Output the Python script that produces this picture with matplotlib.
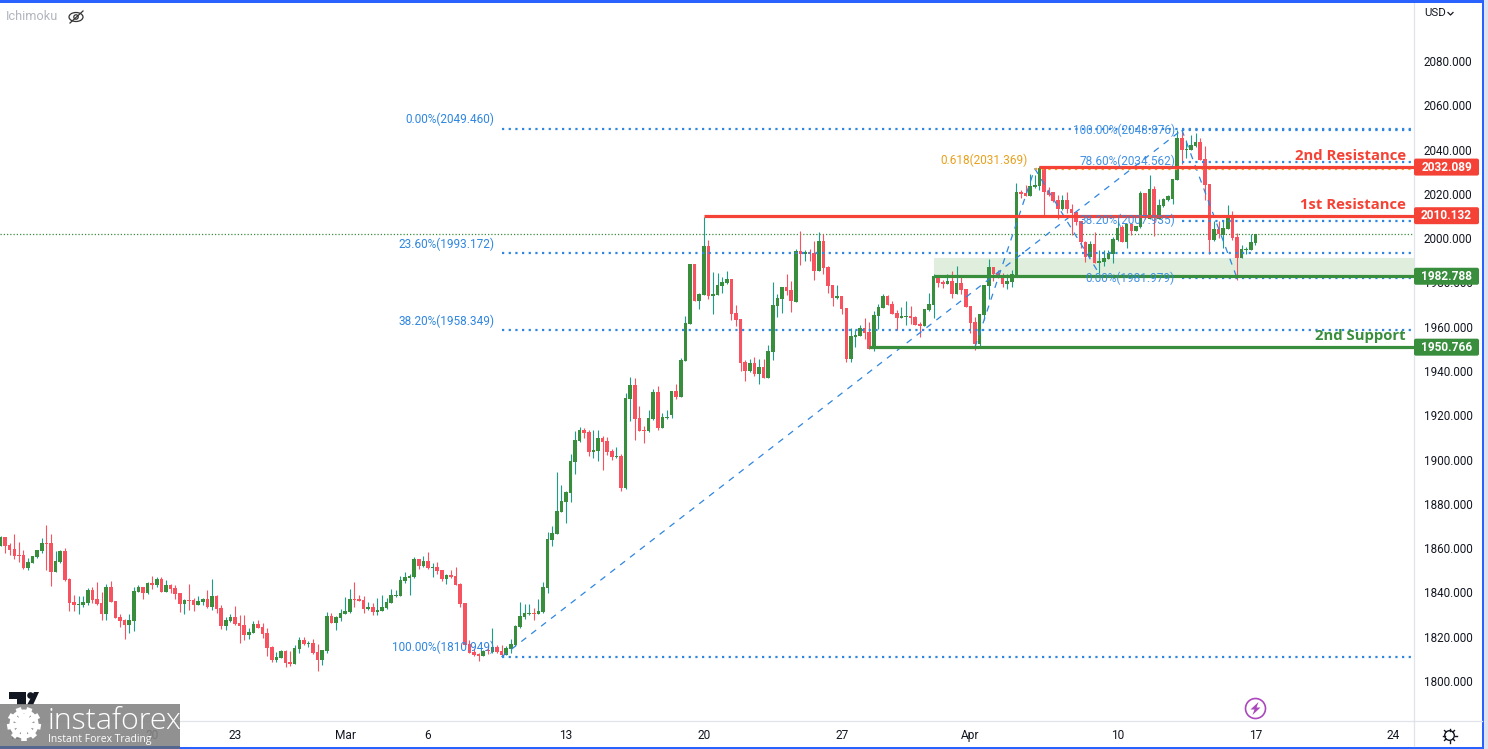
import matplotlib
matplotlib.use('Agg')
import matplotlib.pyplot as plt
import numpy as np
from matplotlib.patches import Circle, Ellipse, FancyBboxPatch, Polygon, Rectangle

# 4h bars
opens = [
    1861.0,1865.0,1861.4,1859.6,1856.9,1856.9,1851.0,1853.4,1856.2,1858.7,
    1862.3,1862.3,1849.2,1853.7,1858.7,1846.1,1835.7,1834.5,1834.3,1835.4,
    1841.1,1837.0,1835.2,1830.3,1842.5,1836.1,1828.9,1827.7,1825.3,1827.2,
    1840.3,1842.3,1839.7,1844.1,1843.4,1846.1,1840.3,1843.4,1841.9,1839.6,
    1834.8,1836.6,1836.6,1834.3,1835.8,1837.0,1833.4,1838.5,1833.0,1824.8,
    1827.1,1828.9,1826.2,1825.1,1820.8,1821.7,1825.7,1824.4,1821.7,1815.4,
    1809.5,1810.5,1813.5,1808.4,1807.7,1814.5,1818.5,1816.7,1817.2,1813.1,
    1809.5,1813.5,1829.4,1826.2,1828.3,1830.3,1831.2,1837.2,1837.2,1836.6,
    1832.5,1833.4,1831.3,1831.8,1833.0,1835.2,1838.4,1838.4,1845.2,1846.5,
    1847.0,1855.1,1851.9,1854.2,1851.2,1851.5,1850.1,1846.1,1847.9,1847.4,
    1843.8,1835.2,1816.7,1813.1,1812.2,1811.3,1814.0,1813.1,1815.4,1813.5,
    1811.7,1814.5,1816.3,1824.4,1828.9,1830.3,1830.7,1830.3,1831.2,1842.0,
    1863.7,1866.4,1876.3,1880.8,1884.9,1898.9,1908.4,1913.4,1912.5,1903.4,
    1903.9,1909.7,1908.4,1903.9,1901.2,1901.6,1887.2,1927.4,1933.7,1918.8,
    1913.4,1912.9,1918.3,1930.5,1914.3,1918.8,1920.0,1931.0,1928.4,1944.5,
    1961.2,1988.3,1971.6,1974.3,1996.5,1973.9,1974.3,1978.4,1979.7,1981.5,
    1966.2,1963.5,1944.1,1940.0,1943.6,1938.6,1941.8,1936.8,1948.6,1969.4,
    1972.5,1977.9,1976.6,1971.2,1994.2,1992.8,1993.7,1993.3,1985.2,1998.7,
    1987.0,1978.8,1973.0,1973.9,1968.5,1945.4,1955.4,1955.8,1959.4,1957.6,
    1949.9,1964.8,1968.5,1973.9,1970.3,1966.2,1963.9,1964.4,1964.8,1964.4,
    1961.2,1960.3,1967.6,1969.8,1983.4,1980.2,1979.3,1980.6,1974.8,1979.7,
    1977.0,1969.4,1962.1,1952.2,1965.3,1978.4,1987.0,1984.3,1982.9,1979.3,
    1980.2,1982.9,2020.8,2020.4,2019.0,2023.0,2023.6,2031.7,2021.3,2020.7,
    2017.2,2013.2,2017.2,2013.2,2011.8,2007.7,1998.3,1991.5,1997.4,1988.8,
    1989.2,1990.6,1992.8,1999.2,2005.0,1998.3,2006.4,2003.2,2005.0,2020.4,
    2008.6,2022.2,2008.6,2014.5,2017.2,2017.7,2026.3,2045.2,2039.8,2039.8,
    2041.6,2043.4,2035.8,2024.5,1999.2,2004.1,2001.4,2004.1,2010.0,2000.5,
    1991.0,1994.6,1994.6,1997.8,
]
closes = [
    1865.2,1861.0,1859.2,1856.5,1856.6,1850.9,1853.7,1856.5,1859.2,1862.5,
    1862.0,1849.4,1854.2,1858.9,1845.6,1835.4,1834.3,1834.8,1835.7,1841.1,
    1836.6,1834.8,1830.3,1842.3,1835.8,1828.5,1827.2,1825.3,1827.5,1840.6,
    1842.5,1839.7,1844.3,1843.4,1846.1,1840.3,1843.4,1841.5,1839.3,1834.8,
    1836.6,1836.3,1834.3,1836.0,1837.0,1833.3,1838.4,1832.7,1824.8,1827.5,
    1828.9,1825.7,1824.8,1820.8,1822.1,1825.7,1823.9,1821.2,1814.9,1809.5,
    1810.8,1813.5,1808.1,1807.5,1814.9,1818.5,1816.7,1817.0,1812.6,1809.5,
    1814.0,1829.4,1826.2,1828.9,1830.7,1831.6,1837.0,1836.7,1836.3,1832.5,
    1833.4,1831.3,1832.1,1833.4,1835.7,1838.8,1838.8,1845.6,1847.0,1847.4,
    1855.1,1851.9,1854.2,1850.9,1851.5,1849.7,1846.1,1847.9,1847.0,1843.4,
    1834.8,1816.3,1812.6,1811.7,1811.3,1813.5,1813.5,1815.4,1813.1,1811.7,
    1814.9,1816.7,1824.8,1829.4,1830.7,1830.7,1830.4,1831.6,1842.5,1864.1,
    1866.8,1876.8,1881.3,1885.4,1899.4,1908.8,1913.4,1912.0,1903.4,1904.3,
    1909.7,1907.9,1903.4,1901.2,1901.6,1887.0,1927.8,1933.7,1918.3,1912.9,
    1912.9,1918.8,1930.5,1914.3,1919.2,1919.2,1931.0,1928.4,1945.0,1961.7,
    1988.3,1971.6,1974.8,1996.5,1973.9,1974.8,1978.8,1980.2,1981.5,1965.7,
    1963.0,1943.6,1940.0,1943.6,1938.6,1941.8,1936.8,1949.0,1969.8,1973.0,
    1977.9,1976.1,1971.6,1994.2,1992.8,1993.7,1992.8,1985.2,1998.7,1986.5,
    1978.4,1973.0,1973.9,1968.0,1945.4,1955.8,1956.3,1959.4,1957.2,1949.9,
    1965.3,1968.9,1973.9,1969.8,1965.7,1963.9,1964.8,1964.8,1963.9,1960.8,
    1960.3,1968.0,1970.3,1982.9,1979.7,1979.3,1980.6,1974.8,1979.7,1976.6,
    1968.9,1961.7,1952.2,1965.7,1978.8,1987.0,1983.8,1982.3,1979.3,1980.6,
    1983.8,2020.8,2019.9,2019.0,2023.6,2024.0,2031.7,2020.8,2019.3,2016.9,
    2013.2,2017.2,2013.2,2011.4,2007.3,1998.3,1991.5,1997.4,1988.8,1989.7,
    1991.0,1993.3,1999.6,2004.6,1998.3,2006.4,2003.2,2005.5,2020.4,2009.1,
    2022.2,2009.1,2015.0,2017.7,2019.0,2026.7,2045.2,2039.8,2040.3,2042.1,
    2043.4,2035.3,2024.0,1999.2,2004.1,2001.9,2004.6,2010.0,2000.1,1991.0,
    1995.1,1995.1,1998.3,2001.9,
]
highs = [
    1865.5,1865.0,1862.5,1866.4,1862.8,1859.2,1855.4,1856.5,1859.2,1864.7,
    1870.5,1866.4,1858.7,1859.2,1859.9,1846.4,1838.8,1838.4,1838.4,1841.9,
    1842.3,1844.7,1840.3,1843.8,1845.2,1836.1,1830.3,1828.0,1830.3,1842.3,
    1843.4,1842.3,1844.9,1847.4,1846.8,1846.8,1845.6,1843.8,1843.4,1839.6,
    1837.2,1843.8,1837.6,1838.4,1837.6,1841.1,1846.1,1838.8,1834.2,1828.8,
    1830.3,1833.9,1829.8,1829.8,1823.9,1826.9,1827.5,1826.2,1823.8,1815.8,
    1813.1,1814.0,1814.0,1813.5,1816.3,1819.9,1819.9,1818.1,1819.0,1816.7,
    1814.0,1831.2,1830.6,1829.4,1832.5,1837.9,1841.5,1844.7,1838.8,1838.4,
    1835.5,1835.2,1837.5,1838.8,1837.5,1841.5,1841.1,1847.4,1849.2,1848.3,
    1856.0,1855.1,1856.5,1858.3,1853.3,1853.7,1850.1,1848.3,1850.1,1851.5,
    1844.3,1835.2,1818.5,1814.9,1812.6,1814.0,1816.3,1823.9,1816.3,1816.3,
    1815.8,1819.0,1825.3,1835.7,1834.8,1834.8,1833.0,1837.0,1844.7,1867.3,
    1870.0,1894.4,1888.5,1885.8,1902.5,1912.9,1914.7,1914.3,1913.4,1913.4,
    1913.4,1910.6,1910.2,1904.8,1905.7,1902.5,1930.1,1937.3,1936.8,1924.2,
    1915.2,1922.4,1931.9,1933.2,1921.0,1922.4,1931.0,1934.1,1945.9,1964.8,
    1988.3,1988.3,1975.2,2009.7,1999.2,1984.7,1984.3,1982.5,1985.2,1981.5,
    1969.8,1963.5,1945.0,1945.4,1946.3,1945.4,1945.4,1951.7,1980.2,1974.8,
    1977.9,1983.8,1980.6,1995.1,2003.2,1994.7,1995.1,1998.7,2002.8,2001.9,
    1987.4,1978.8,1978.8,1973.9,1968.5,1959.4,1958.5,1960.8,1963.9,1962.1,
    1967.1,1970.3,1974.8,1974.3,1971.6,1967.6,1968.9,1971.6,1969.4,1964.8,
    1962.1,1968.0,1975.2,1983.8,1983.4,1981.1,1983.8,1985.2,1987.4,1982.5,
    1977.0,1969.4,1964.4,1965.7,1978.8,1990.6,1987.0,1985.6,1984.1,1983.8,
    1985.6,2024.8,2021.7,2024.0,2029.0,2028.5,2032.6,2031.7,2023.1,2020.8,
    2019.5,2019.5,2020.8,2015.4,2012.3,2007.7,1998.7,1998.7,2002.8,1994.6,
    1994.6,1994.6,2000.5,2007.7,2005.9,2006.4,2006.4,2005.5,2021.3,2020.4,
    2028.5,2023.6,2017.7,2018.1,2019.5,2026.7,2048.8,2048.8,2044.3,2046.6,
    2047.5,2045.2,2041.6,2024.5,2007.7,2007.7,2007.7,2015.0,2012.3,2002.3,
    1996.9,1996.0,2001.9,2001.9,
]
lows = [
    1861.0,1858.0,1856.9,1854.9,1853.9,1850.6,1850.1,1853.1,1855.7,1858.0,
    1850.1,1842.9,1849.2,1853.4,1845.3,1831.8,1831.8,1830.3,1833.6,1834.5,
    1835.1,1834.3,1827.5,1827.5,1835.5,1828.5,1824.2,1819.1,1821.8,1822.6,
    1840.2,1837.0,1839.3,1841.4,1842.6,1840.2,1840.2,1839.9,1837.2,1831.2,
    1830.3,1832.1,1831.8,1834.2,1834.3,1833.0,1832.1,1830.9,1823.6,1823.0,
    1826.5,1825.3,1817.3,1818.5,1819.1,1821.5,1823.8,1819.4,1811.3,1808.6,
    1808.6,1810.4,1806.3,1806.8,1807.7,1812.6,1816.1,1815.5,1812.2,1804.5,
    1807.2,1812.6,1826.0,1823.0,1827.2,1830.3,1830.9,1833.6,1836.1,1830.7,
    1832.1,1829.8,1829.8,1831.6,1832.5,1835.2,1837.9,1838.4,1844.3,1838.8,
    1846.5,1850.6,1851.3,1850.6,1847.0,1848.3,1845.2,1843.8,1846.5,1843.2,
    1833.4,1816.3,1812.6,1811.3,1809.0,1811.3,1812.2,1812.6,1812.6,1811.3,
    1811.7,1812.6,1815.8,1823.9,1828.0,1829.8,1827.5,1830.3,1830.7,1839.7,
    1861.0,1866.4,1876.3,1871.4,1880.8,1893.5,1907.9,1909.7,1901.6,1900.7,
    1899.4,1895.3,1902.1,1899.8,1900.7,1885.8,1886.7,1917.4,1908.8,1912.9,
    1907.5,1912.5,1917.9,1913.4,1914.3,1918.3,1919.0,1927.4,1928.4,1944.5,
    1961.2,1971.6,1968.0,1974.3,1972.5,1965.7,1974.3,1975.2,1979.3,1963.0,
    1960.3,1940.0,1935.5,1939.6,1937.7,1934.1,1936.8,1936.8,1945.0,1964.4,
    1966.2,1974.3,1966.6,1971.2,1987.9,1989.7,1989.7,1981.1,1985.2,1983.8,
    1975.2,1969.4,1972.5,1965.7,1944.1,1944.1,1950.8,1955.8,1954.5,1949.9,
    1949.0,1959.0,1968.5,1969.8,1965.7,1958.5,1963.9,1960.8,1961.2,1960.8,
    1955.4,1960.3,1967.1,1963.9,1977.9,1977.5,1979.3,1973.0,1974.8,1974.8,
    1968.9,1957.2,1949.5,1951.3,1963.0,1972.5,1980.6,1982.0,1978.1,1977.0,
    1977.8,1982.9,2018.0,2019.0,2019.0,2022.5,2021.7,2010.5,2019.0,2016.5,
    2008.5,2012.7,2011.2,2001.4,2005.9,1995.6,1989.2,1991.5,1988.8,1984.1,
    1987.4,1990.6,1988.8,1998.7,1998.3,1995.6,2001.4,2003.2,2004.6,2008.6,
    2008.6,2001.0,2008.6,2014.1,2016.8,2015.4,2026.3,2033.5,2036.2,2039.8,
    2041.2,2035.3,2017.2,1992.8,1998.7,2000.1,1995.6,2004.1,1999.2,1981.1,
    1991.0,1992.8,1994.6,1996.9,
]

# time axis
tick_bars = [3, 33, 51, 75, 93, 123, 153, 183, 211, 243, 273, 303]
tick_labels = ['13', '20', '23', 'Mar', '6', '13', '20', '27', 'Apr', '10', '17', '24']
price_ticks = list(range(1800, 2081, 20))

# fibonacci levels
fib_left_levels = [2049.460, 1993.172, 1958.349, 1810.949]
fib_left_labels = ['0.00%', '23.60%', '38.20%', '100.00%']
fib_left_bar = 109
fib_right_levels = [2048.876, 2034.562, 2007.935, 1981.979]
fib_right_labels = ['100.00%', '78.60%', '38.20%', '0.00%']
fib_right_bar = 257
golden_level = 2031.369
golden_bar = 225

# support and resistance
level_values = [2032.089, 2010.132, 1982.788, 1950.766]
level_bars = [226, 153, 203, 189]
level_names = ['2nd Resistance', '1st Resistance', None, '2nd Support']
zone_top = 1991.2
last_price = 2001.9

# swing legs of the fib tools
leg_bars = [(109, 257), (212, 225), (225, 239), (257, 269)]
leg_prices = [(1810.9, 2048.9), (1950.8, 2031.4), (2031.4, 1984.0), (2048.9, 1982.0)]

RED = '#f44336'
GREEN = '#388e3c'
BLUE = '#2f86e0'
BAR_RED = '#f7525f'
WICK_GREEN = '#1a9e85'
GRID = '#e0e3eb'
TEXT = '#131722'
WATERMARK = '#858585'

plt.rcParams['font.family'] = ['Roboto', 'DejaVu Sans']

fig = plt.figure(figsize=(14.88, 7.49), dpi=100)
fig.patch.set_facecolor('white')
ax = fig.add_axes([0, 28 / 749, 1414 / 1488, 719 / 749])

opens = np.array(opens)
closes = np.array(closes)
highs = np.array(highs)
lows = np.array(lows)
bars = np.arange(len(opens))
up = closes >= opens

ax.set_xlim(-0.11, 307.5)
ax.set_ylim(1781.94, 2106.64)

ax.vlines(bars[up], lows[up], highs[up], color=WICK_GREEN, lw=0.8, zorder=3)
ax.vlines(bars[~up], lows[~up], highs[~up], color=BAR_RED, lw=0.8, zorder=3)
ax.bar(bars[up], closes[up] - opens[up], bottom=opens[up], width=0.78, color=GREEN, lw=0, zorder=3)
ax.bar(bars[~up], opens[~up] - closes[~up], bottom=closes[~up], width=0.78, color=BAR_RED, lw=0, zorder=3)

right = ax.get_xlim()[1]

# support zone
ax.fill_between([level_bars[2], right], level_values[2], zone_top, color='#dfeedd', lw=0, zorder=1)

# last price line
ax.axhline(last_price, color=GREEN, lw=0.9, ls=(0, (1, 1.6)), zorder=2)

# swing legs
for b, p in zip(leg_bars, leg_prices):
    ax.plot(b, p, color=BLUE, lw=0.9, ls=(0, (5, 5)), zorder=4)

# fib lines and labels
dots = (0, (1, 2))
for level, name in zip(fib_left_levels, fib_left_labels):
    ax.plot([fib_left_bar, right], [level, level], color=BLUE, lw=1.6, ls=dots, zorder=4)
    ax.annotate(f'{name}({level:.3f})', (fib_left_bar, level), xytext=(-5, 1.8),
                textcoords='offset points', ha='right', va='bottom', fontsize=8.5,
                color=BLUE, zorder=6)
for level, name in zip(fib_right_levels, fib_right_labels):
    ax.plot([fib_right_bar, right], [level, level], color=BLUE, lw=1.6, ls=dots, zorder=4)
    ax.annotate(f'{name}({level:.3f})', (fib_right_bar, level), xytext=(-5, 0),
                textcoords='offset points', ha='right', va='center', fontsize=8.5,
                color=BLUE, alpha=0.9, zorder=6)
ax.plot([golden_bar, right], [golden_level, golden_level], color='#f0a020', lw=1.6, ls=dots, zorder=4)
ax.annotate(f'0.618({golden_level:.3f})', (golden_bar, golden_level), xytext=(-5, 1),
            textcoords='offset points', ha='right', va='bottom', fontsize=8.5,
            color='#e8a01c', zorder=6)

# support and resistance lines
for value, start, name in zip(level_values, level_bars, level_names):
    colour = RED if value > last_price else GREEN
    ax.plot([start, right], [value, value], color=colour, lw=2.3, solid_capstyle='butt', zorder=5)
    if name:
        ax.annotate(name, (right, value), xytext=(-6, 3), textcoords='offset points',
                    ha='right', va='bottom', fontsize=10.7, fontweight='bold', color=colour,
                    family=['Open Sans', 'DejaVu Sans'], zorder=6)

ax.set_xticks(tick_bars)
ax.set_xticklabels(tick_labels, fontsize=8.6, color=TEXT)
ax.yaxis.tick_right()
ax.set_yticks(price_ticks)
ax.set_yticklabels([f'{p}.000' for p in price_ticks], fontsize=8.4, color=TEXT)
ax.tick_params(axis='both', length=0)
ax.tick_params(axis='y', pad=7)
ax.tick_params(axis='x', pad=5.5)
for side in ('top', 'left'):
    ax.spines[side].set_visible(False)
for side in ('right', 'bottom'):
    ax.spines[side].set_color(GRID)
    ax.spines[side].set_linewidth(0.9)

# page furniture, in pixels
ov = fig.add_axes([0, 0, 1, 1], zorder=5)
ov.set_xlim(0, 1488)
ov.set_ylim(749, 0)
ov.axis('off')

# price tags on the scale, placed through the chart's own y scale
for value in level_values:
    colour = RED if value > last_price else GREEN
    y_px = 749 - ax.transData.transform((0, value))[1]
    ov.add_patch(FancyBboxPatch((1414, y_px - 8.5), 65, 17, boxstyle='round,pad=0,rounding_size=2',
                                fc=colour, ec='none'))
    ov.text(1446.5, y_px, f'{value:.3f}', ha='center', va='center', fontsize=8.6,
            fontweight='bold', color='white')

ov.plot([1414, 1482], [721, 721], color=GRID, lw=0.9)
ov.plot([1414, 1414], [721, 746], color=GRID, lw=0.9)

ov.add_patch(Rectangle((1484, 0), 4, 749, fc='#dfe3ef', ec='none'))
ov.add_patch(Rectangle((0, 0), 1484, 2.5, fc='#2962ff', ec='none'))
ov.add_patch(Rectangle((1481.5, 0), 2.5, 749, fc='#2962ff', ec='none'))
ov.add_patch(Rectangle((180, 746.5), 1304, 2.5, fc='#2962ff', ec='none'))

ov.text(6, 17, 'Ichimoku', fontsize=9.2, color='#b2b5be', va='center', ha='left')
ov.add_patch(Ellipse((76, 17), 14, 9, fc='none', ec='#333333', lw=0.9))
ov.add_patch(Circle((76, 17), 2.2, fc='none', ec='#333333', lw=0.9))
ov.plot([70, 83], [23, 11], color='#333333', lw=0.9)

ov.text(1424, 13.5, 'USD', fontsize=8.2, color=TEXT, va='center', ha='left')
ov.plot([1448, 1450.5, 1453], [12.5, 15, 12.5], color=TEXT, lw=0.9)

# lightning badge
ov.add_patch(Circle((1255.5, 708.5), 10, fc='white', ec='#ab47bc', lw=1.2))
ov.add_patch(Polygon([(1258.5, 702), (1250.5, 709.5), (1254.5, 709.5), (1252.5, 715),
                      (1260.5, 707.5), (1256.5, 707.5)], fc='#ab47bc', ec='none'))

# settings gear
ov.add_patch(Circle((1449.5, 735.5), 4.8, fc='white', ec=TEXT, lw=1))
for a in np.arange(8) * np.pi / 4:
    ov.plot([1449.5 + 5 * np.cos(a), 1449.5 + 7 * np.cos(a)],
            [735.5 + 5 * np.sin(a), 735.5 + 7 * np.sin(a)], color=TEXT, lw=1)

# tradingview mark
ov.add_patch(Polygon([(9, 692), (26, 692), (26, 705), (17, 705), (17, 699), (9, 699)], fc='#131722', ec='none'))
ov.add_patch(Circle((30.5, 695.5), 3.3, fc='#131722', ec='none'))
ov.add_patch(Polygon([(27, 705), (34, 692), (39, 692), (33, 705)], fc='#131722', ec='none'))

# instaforex watermark
ov.add_patch(Rectangle((0, 704), 180, 42, fc=WATERMARK, ec='none', alpha=0.9))
ov.add_patch(Rectangle((0, 746), 180, 3, fc='#55678f', ec='none'))
for a in np.arange(9) * 2 * np.pi / 9 + np.pi / 2:
    ov.plot([24, 24 + 17 * np.cos(a)], [724, 724 + 17 * np.sin(a)], color='white',
            lw=4, solid_capstyle='butt')
ov.add_patch(Circle((24, 724), 14.5, fc='white', ec='none'))
ov.add_patch(Circle((24, 724), 10.5, fc=WATERMARK, ec='none'))
ov.add_patch(Circle((24, 716), 2.6, fc='white', ec='none'))
ov.add_patch(Polygon([(13, 717), (19, 723), (21, 727), (21, 738), (27, 738), (27, 727),
                      (29, 723), (35, 717), (33, 714), (27, 721), (21, 721), (15, 714)],
                     fc='white', ec='none'))
ov.text(47, 721, 'instaforex', fontsize=21.8, color='white', va='center', ha='left',
        family=['Open Sans', 'DejaVu Sans'], fontweight='light')
ov.text(48, 739.5, 'Instant Forex Trading', fontsize=7.5, color='white', va='center', ha='left',
        family=['Open Sans', 'DejaVu Sans'])

fig.savefig('out.png', dpi=100)
